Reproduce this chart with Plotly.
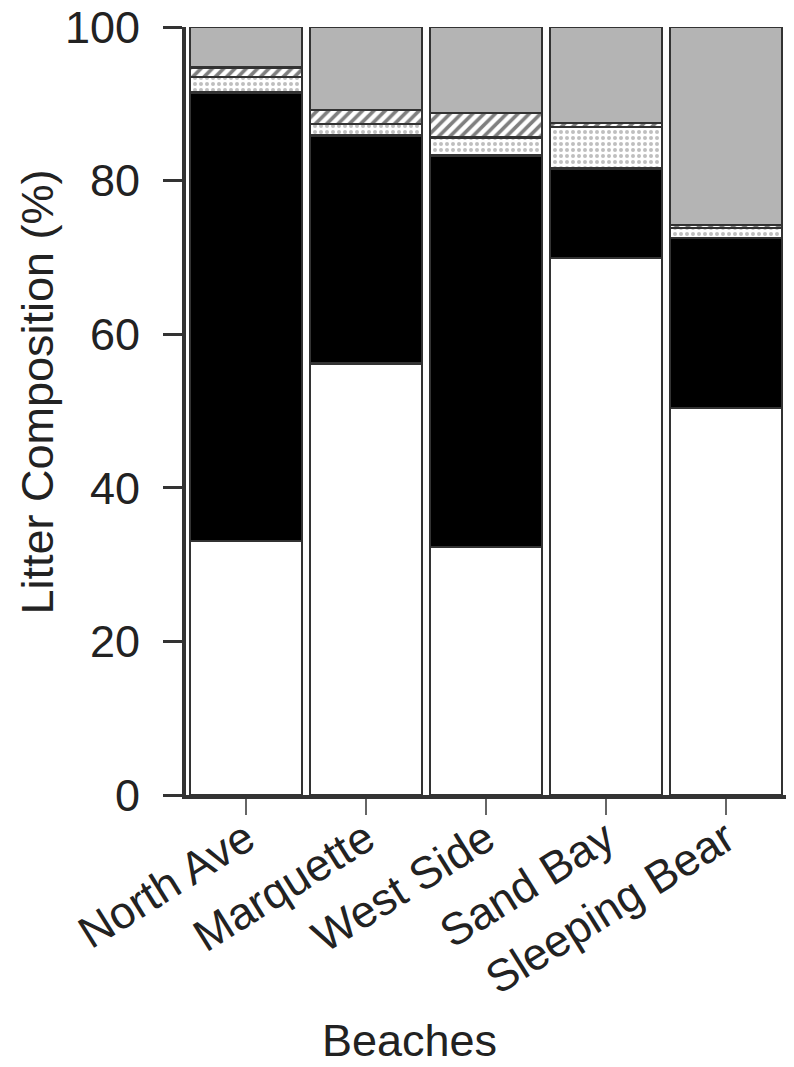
import plotly.graph_objects as go

beaches = ["North Ave", "Marquette", "West Side", "Sand Bay", "Sleeping Bear"]
white_seg = [33.1, 56.2, 32.3, 69.9, 50.4]
black_seg = [58.4, 29.7, 51.0, 11.7, 22.1]
dotted_seg = [2.0, 1.5, 2.3, 5.4, 1.3]
hatched_seg = [1.2, 1.8, 3.2, 0.5, 0.4]
gray_seg = [5.3, 10.8, 11.2, 12.5, 25.8]
y_ticks = [0, 20, 40, 60, 80, 100]

FONT = "Liberation Sans, Arial, sans-serif"
EDGE = dict(color="#333333", width=2.5)

fig = go.Figure()
fig.add_bar(x=beaches, y=white_seg, marker=dict(color="white", line=EDGE), name="white")
fig.add_bar(x=beaches, y=black_seg, marker=dict(color="black", line=EDGE), name="black")
fig.add_bar(x=beaches, y=dotted_seg,
            marker=dict(color="white", line=EDGE,
                        pattern=dict(shape=".", fgcolor="#808080", bgcolor="white",
                                     size=6, solidity=0.35)), name="dotted")
fig.add_bar(x=beaches, y=hatched_seg,
            marker=dict(color="white", line=EDGE,
                        pattern=dict(shape="/", fgcolor="black", bgcolor="white",
                                     size=8, solidity=0.45)), name="hatched")
fig.add_bar(x=beaches, y=gray_seg, marker=dict(color="#b4b4b4", line=EDGE), name="gray")

fig.update_layout(
    barmode="stack",
    bargap=0.07,
    showlegend=False,
    width=794, height=1067,
    margin=dict(l=186, r=8, t=27, b=272, autoexpand=False),
    paper_bgcolor="white", plot_bgcolor="white",
    font=dict(family=FONT, size=45, color="#222222"),
)
fig.update_yaxes(
    range=[0, 100], tickvals=y_ticks, ticks="outside", ticklen=19, tickwidth=3,
    tickcolor="#333333", showline=True, linecolor="#333333", linewidth=4,
    showgrid=False, zeroline=False, ticklabelstandoff=14, automargin=False,
    tickfont=dict(size=45, family=FONT, color="#222222"),
)
fig.update_xaxes(
    range=[-0.5, 4.5], ticks="outside", ticklen=16, tickwidth=2, tickcolor="#666666",
    showline=True, linecolor="#333333", linewidth=4, showgrid=False, automargin=False,
    tickangle=-32, ticklabelstandoff=-20,
    tickfont=dict(size=45, family=FONT, color="#222222"),
)
fig.add_annotation(text="Beaches", xref="paper", yref="paper", x=0.372, y=-0.320,
                   xanchor="center", yanchor="middle", showarrow=False,
                   font=dict(size=45, family=FONT, color="#222222"))
fig.add_annotation(text="Litter Composition (%)", xref="paper", yref="paper",
                   x=-0.247, y=0.525, textangle=-90, xanchor="center", yanchor="middle",
                   showarrow=False, font=dict(size=45, family=FONT, color="#222222"))

fig.write_html("out.html")
